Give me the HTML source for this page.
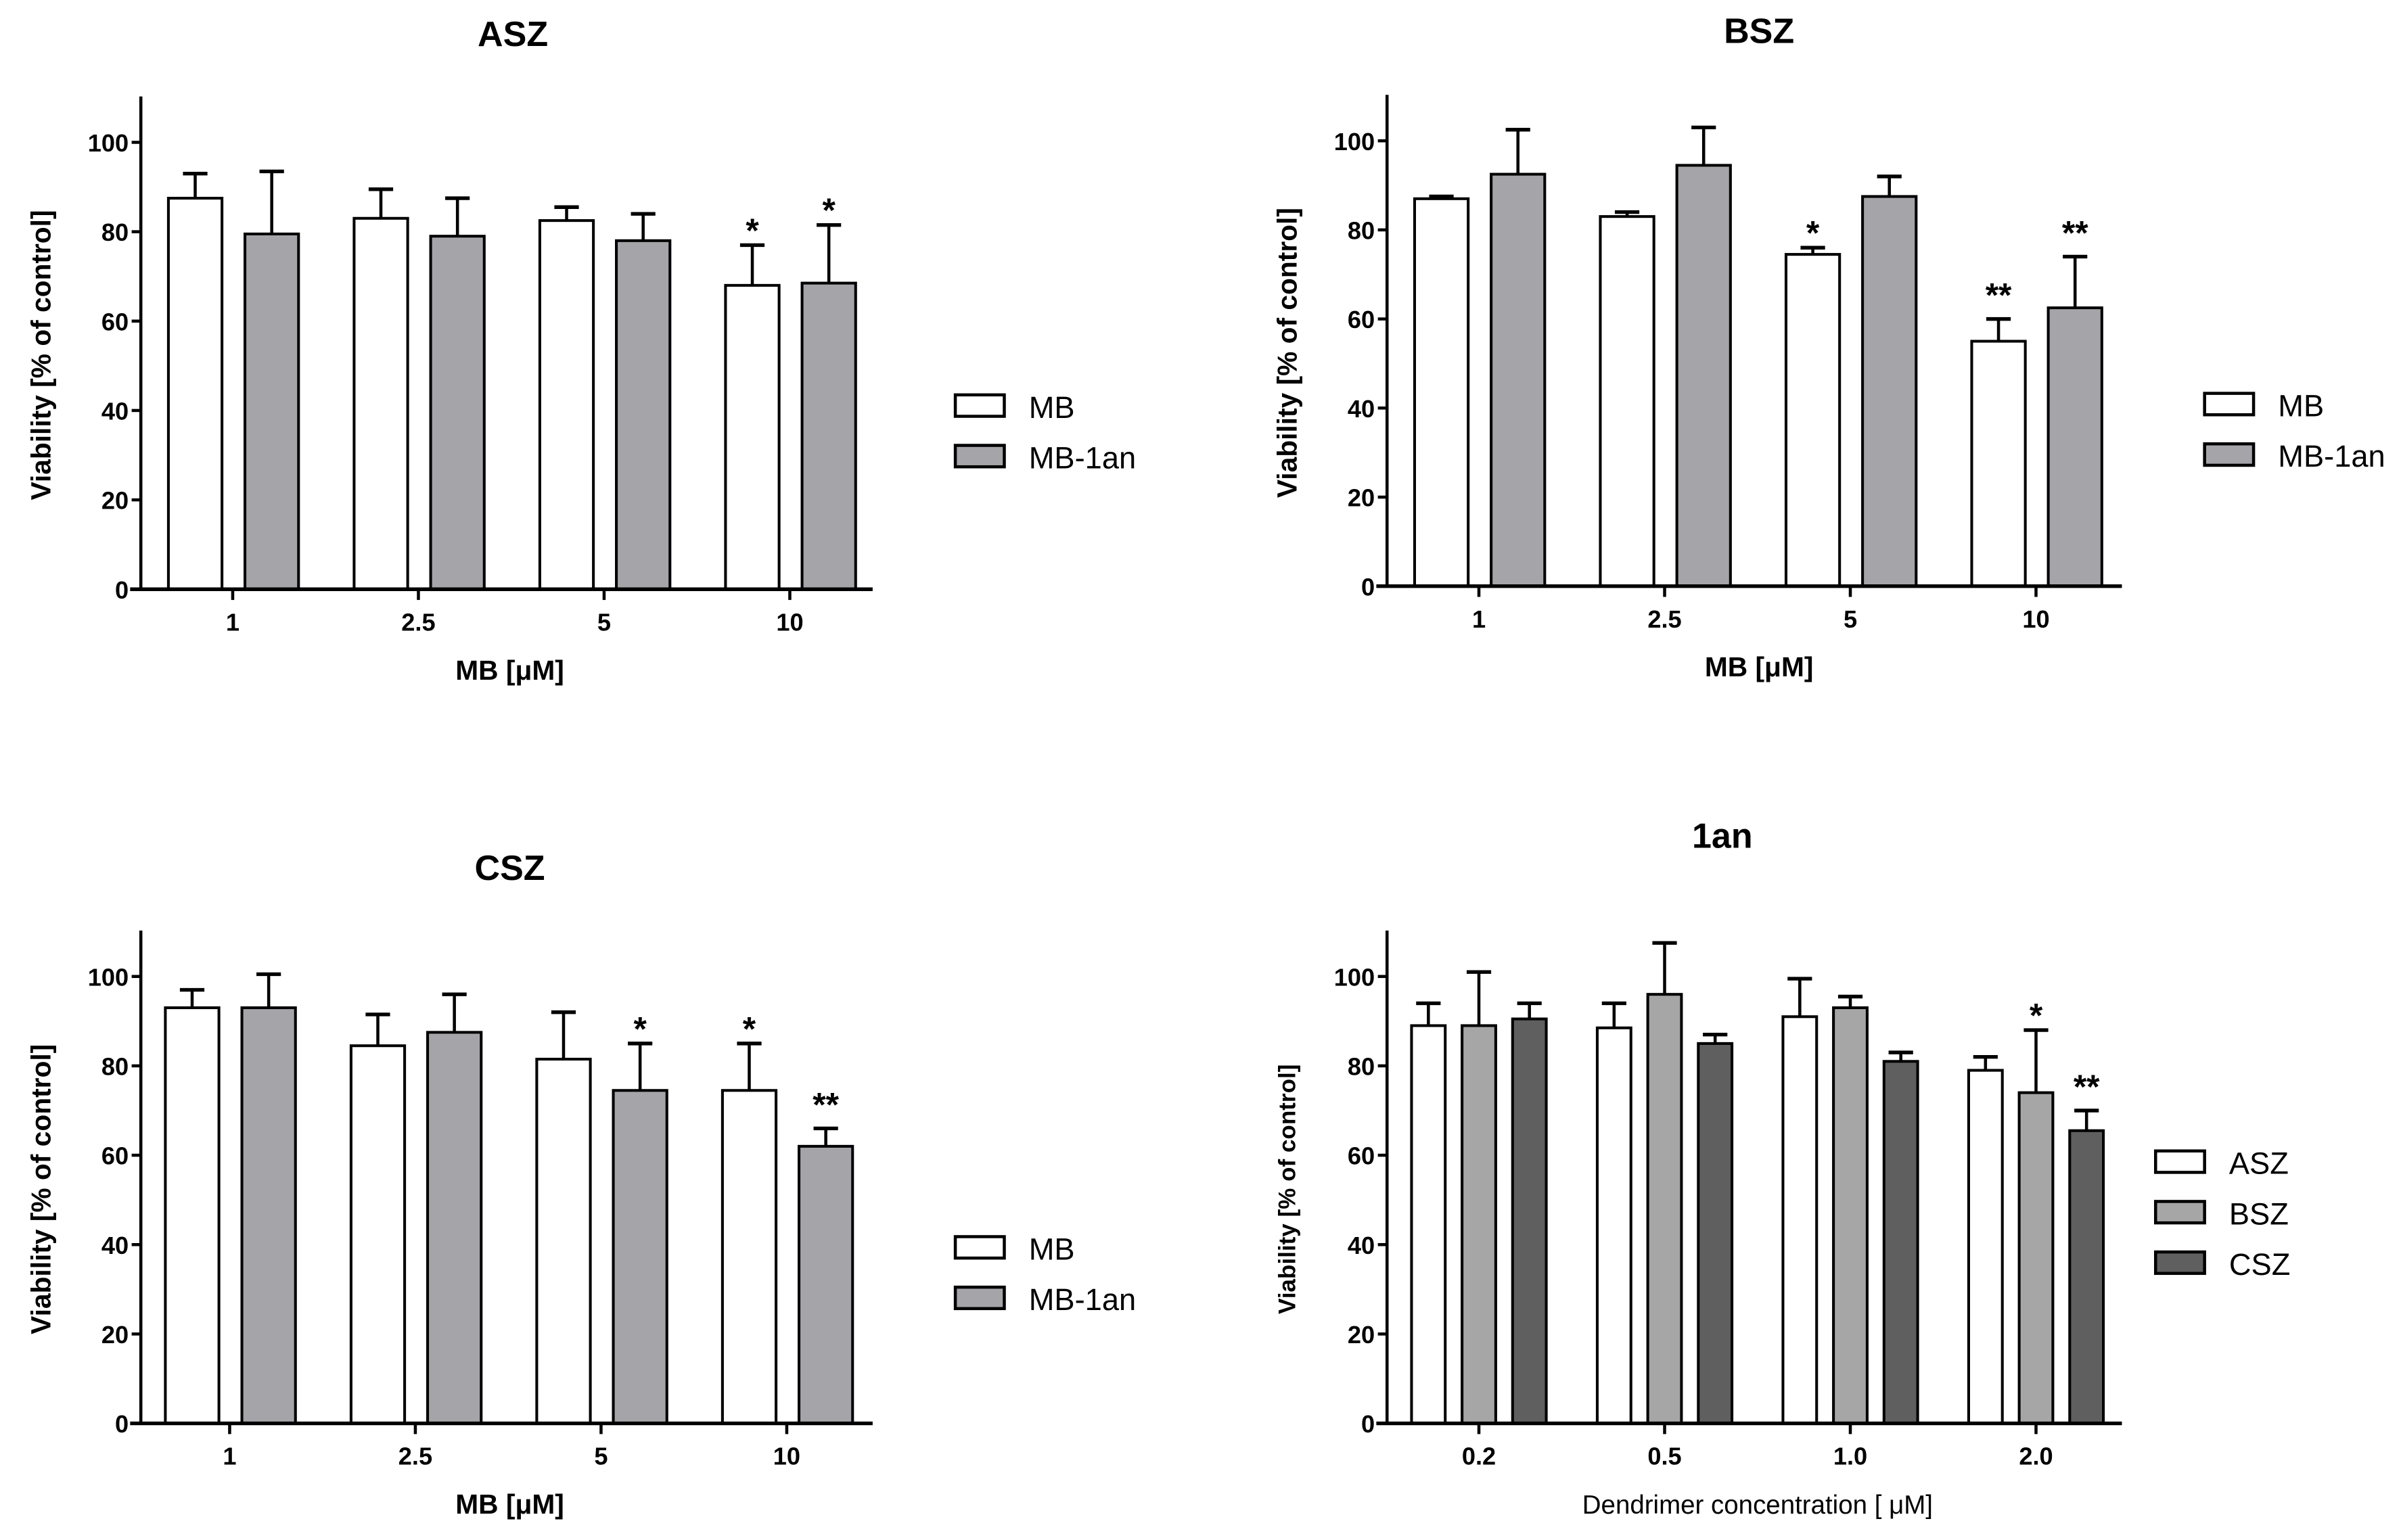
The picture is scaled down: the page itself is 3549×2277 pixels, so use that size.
<!DOCTYPE html>
<html><head><meta charset="utf-8"><style>
html,body{margin:0;padding:0;background:#fff;}
svg{display:block;}
text{font-family:"Liberation Sans",sans-serif;fill:#000;}
</style></head><body>
<svg id="fig" width="3549" height="2277" viewBox="0 0 1568.3 1006.2" xmlns="http://www.w3.org/2000/svg"></svg>
<script>
// Panel A (ASZ)
const aCats = ["1","2.5","5","10"];
const aMB = [87.5,83,82.5,68];
const aMBErr = [93,89.5,85.5,77];
const aAn = [79.5,79,78,68.5];
const aAnErr = [93.5,87.5,84,81.5];
const aStarsMB = ["","","","*"];
const aStarsAn = ["","","","*"];
// Panel B (BSZ)
const bCats = ["1","2.5","5","10"];
const bMB = [87,83,74.5,55];
const bMBErr = [87.5,84,76,60];
const bAn = [92.5,94.5,87.5,62.5];
const bAnErr = [102.5,103,92,74];
const bStarsMB = ["","","*","**"];
const bStarsAn = ["","","","**"];
// Panel C (CSZ)
const cCats = ["1","2.5","5","10"];
const cMB = [93,84.5,81.5,74.5];
const cMBErr = [97,91.5,92,85];
const cAn = [93,87.5,74.5,62];
const cAnErr = [100.5,96,85,66];
const cStarsMB = ["","","","*"];
const cStarsAn = ["","","*","**"];
// Panel D (1an)
const dCats = ["0.2","0.5","1.0","2.0"];
const dASZ = [89,88.5,91,79];
const dASZErr = [94,94,99.5,82];
const dBSZ = [89,96,93,74];
const dBSZErr = [101,107.5,95.5,88];
const dCSZ = [90.5,85,81,65.5];
const dCSZErr = [94,87,83,70];
const dStarsA = ["","","",""];
const dStarsB = ["","","","*"];
const dStarsC = ["","","","**"];
const yTicks = [0,20,40,60,80,100];

const NS="http://www.w3.org/2000/svg";
const svg=document.getElementById('fig');
function mk(tag,attrs,parent,txt){const e=document.createElementNS(NS,tag);for(const k in attrs)e.setAttribute(k,attrs[k]);if(txt!==undefined)e.textContent=txt;(parent||svg).appendChild(e);return e;}

function panel(o){
  const g=mk('g',{});
  
  
  const y=v=>o.y0-(o.y0-o.y100)*v/100;
  const x=i=>o.t0+i*o.step;
  // title
  const t=mk('text',{x:o.tx,y:o.ty,'font-size':23,'font-weight':'bold','text-anchor':'middle'},g,o.title);
  
  
  // bars
  o.series.forEach((s,si)=>{
    s.vals.forEach((v,i)=>{
      const cx=x(i)+o.offs[si];
      const top=y(v), et=y(s.err[i]);
      const eb=mk('line',{x1:cx,x2:cx,y1:top,y2:et,stroke:'#000','stroke-width':2},g);
      
      
      const cap=mk('line',{x1:cx-8,x2:cx+8,y1:et,y2:et,stroke:'#000','stroke-width':2.4},g);
      
      
      const r=mk('rect',{x:cx-o.bw/2,y:top,width:o.bw,height:o.y0-top,fill:s.color,stroke:'#000','stroke-width':1.8},g);
      
      
      const st=s.stars[i];
      if(st){const sx=mk('text',{x:cx,y:et-8+(st.length>1?0:6),'font-size':22,'font-weight':'bold','text-anchor':'middle'},g,st);
        
        }
    });
  });
  // axes
  const ya=mk('line',{x1:o.ax,x2:o.ax,y1:o.ytop,y2:o.y0+1,stroke:'#000','stroke-width':2},g);
  
  
  const xa=mk('line',{x1:o.ax-7,x2:o.xend,y1:o.y0,y2:o.y0,stroke:'#000','stroke-width':2.4},g);
  
  
  yTicks.forEach(v=>{
    const tk=mk('line',{x1:o.ax-6,x2:o.ax,y1:y(v),y2:y(v),stroke:'#000','stroke-width':2},g);
    
    
    const tl=mk('text',{x:o.ax-8,y:y(v)+6,'font-size':16,'font-weight':'bold','text-anchor':'end'},g,String(v));
    
    
  });
  o.cats.forEach((c,i)=>{
    const tk=mk('line',{x1:x(i),x2:x(i),y1:o.y0,y2:o.y0+7,stroke:'#000','stroke-width':2},g);
    
    
    const tl=mk('text',{x:x(i),y:o.y0+27,'font-size':16,'font-weight':'bold','text-anchor':'middle'},g,c);
    
    
  });
  const xl=mk('text',{x:o.xlx,y:o.y0+59,'font-size':o.xlbold?18:17,'font-weight':o.xlbold?'bold':'normal','text-anchor':'middle'},g,o.xlabel);
  
  
  const yc=(o.y0+o.ytop)/2+8;
  const yl=mk('text',{x:0,y:0,'font-size':o.ylfs,'font-weight':'bold','text-anchor':'middle',transform:`translate(${o.ylx},${yc}) rotate(-90)`},g,'Viability [% of control]');
  
  
  // legend
  o.series.forEach((s,si)=>{
    const ly=o.ly+si*33;
    const lb=mk('rect',{x:o.lx,y:ly,width:32,height:14,fill:s.color,stroke:'#000','stroke-width':2},g);
    
    
    const lt=mk('text',{x:o.lx+48,y:ly+15,'font-size':20},g,s.label);
    
    
  });
}
const W='#ffffff',G='#a5a4a9';
panel({name:'panel-asz',title:'ASZ',tx:335,ty:30,ax:92,ytop:63,y0:385,y100:93,t0:152,step:121.3,xend:570,bw:35,offs:[-24.5,25.5],cats:aCats,
  series:[{key:'mb',label:'MB',color:W,vals:aMB,err:aMBErr,stars:aStarsMB},{key:'mb-1an',label:'MB-1an',color:G,vals:aAn,err:aAnErr,stars:aStarsAn}],
  xlabel:'MB [μM]',xlx:333,xlbold:true,ylx:33,ylfs:18,lx:624,ly:258});
panel({name:'panel-bsz',title:'BSZ',tx:1149,ty:28,ax:906,ytop:62,y0:383,y100:92,t0:966,step:121.3,xend:1386,bw:35,offs:[-24.5,25.5],cats:bCats,
  series:[{key:'mb',label:'MB',color:W,vals:bMB,err:bMBErr,stars:bStarsMB},{key:'mb-1an',label:'MB-1an',color:G,vals:bAn,err:bAnErr,stars:bStarsAn}],
  xlabel:'MB [μM]',xlx:1149,xlbold:true,ylx:847,ylfs:18,lx:1440,ly:257});
panel({name:'panel-csz',title:'CSZ',tx:333,ty:575,ax:92,ytop:608,y0:930,y100:638,t0:150,step:121.3,xend:570,bw:35,offs:[-24.5,25.5],cats:cCats,
  series:[{key:'mb',label:'MB',color:W,vals:cMB,err:cMBErr,stars:cStarsMB},{key:'mb-1an',label:'MB-1an',color:G,vals:cAn,err:cAnErr,stars:cStarsAn}],
  xlabel:'MB [μM]',xlx:333,xlbold:true,ylx:33,ylfs:18,lx:624,ly:808});
panel({name:'panel-1an',title:'1an',tx:1125,ty:554,ax:906,ytop:608,y0:930,y100:638,t0:966,step:121.3,xend:1386,bw:22,offs:[-33,0,33],cats:dCats,
  series:[{key:'asz',label:'ASZ',color:W,vals:dASZ,err:dASZErr,stars:dStarsA},{key:'bsz',label:'BSZ',color:'#a6a6a6',vals:dBSZ,err:dBSZErr,stars:dStarsB},{key:'csz',label:'CSZ',color:'#5f5f5f',vals:dCSZ,err:dCSZErr,stars:dStarsC}],
  xlabel:'Dendrimer concentration [ μM]',xlx:1148,xlbold:false,ylx:846,ylfs:15.5,lx:1408,ly:752});
</script>
</body></html>
